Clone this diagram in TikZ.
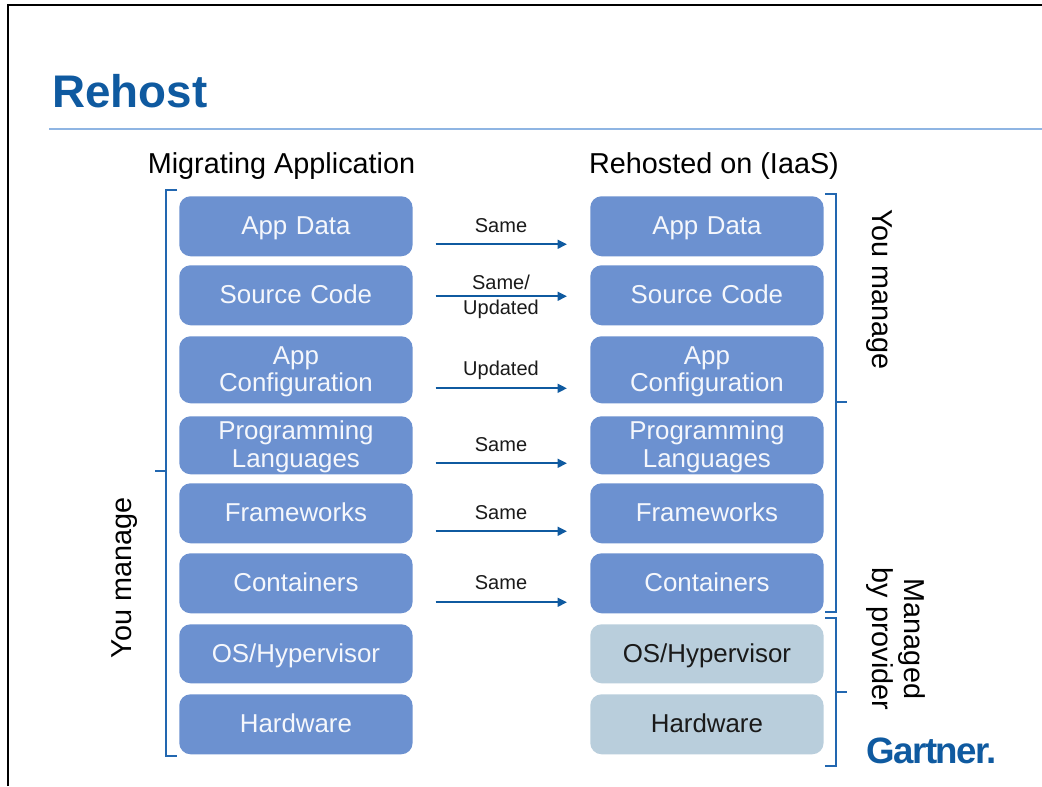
\documentclass[tikz,border=0pt]{standalone}
\usepackage{fontspec}
\setmainfont{Liberation Sans}
\usetikzlibrary{arrows.meta}
\definecolor{boxblue}{HTML}{6C91D0}
\definecolor{boxpale}{HTML}{B9CEDC}
\definecolor{brandblue}{HTML}{0F5AA0}
\definecolor{bracketblue}{HTML}{2267B0}
\definecolor{rulec}{HTML}{8FB5E3}
\definecolor{inktext}{HTML}{1A1A1A}
\newcommand{\boxstrut}{\rule[-4pt]{0pt}{20.4pt}}
\tikzset{
  x=0.75pt,y=-0.75pt,
  layer/.style={draw=none,rounded corners=8.5pt,inner sep=0pt,align=center,anchor=north west,
    text width=175pt,font=\fontsize{19.4}{20.5}\selectfont},
  own/.style={layer,fill=boxblue,text=white!93!boxblue},
  prov/.style={layer,fill=boxpale,text=inktext},
  flow/.style={draw=brandblue,line width=1.7pt,-{Triangle[length=7pt,width=6.5pt]},shorten <=17pt,shorten >=17.25pt},
  flowlabel/.style={font=\fontsize{15}{18.6}\selectfont,text=inktext,align=center,inner sep=0pt},
  heading/.style={font=\fontsize{21.6}{24}\selectfont,text=black,inner sep=0pt,align=center},
  brace/.style={draw=bracketblue,line width=1.4pt},
}
\begin{document}
\begin{tikzpicture}
\useasboundingbox (0,0) rectangle (1042,786);
\fill[white] (0,0) rectangle (1042,786);
\draw[black,line width=1.6pt] (8,786) -- (8,5) -- (1042,5);
\node[anchor=base west,inner sep=0pt,font=\fontsize{34.3}{36}\selectfont\bfseries,text=brandblue] (title) at (52,107) {Rehost};
\draw[rulec,line width=1.4pt] (49,129) -- (1042,129);
\node[heading] (hl) at (281.5,166) {Migrating Application};
\node[heading] (hr) at (714,166) {Rehosted on (IaaS)};
% left column
\node[own,minimum height=45pt] (la) at (179,196) {App Data\boxstrut};
\node[own,minimum height=45pt] (lb) at (179,265) {Source Code\boxstrut};
\node[own,minimum height=50.25pt] (lc) at (179,336) {\boxstrut App\\Configuration\boxstrut};
\node[own,minimum height=43.5pt] (ld) at (179,416) {\boxstrut Programming\\Languages\boxstrut};
\node[own,minimum height=45pt] (le) at (179,483) {Frameworks\boxstrut};
\node[own,minimum height=45pt] (lf) at (179,553) {Containers\boxstrut};
\node[own,minimum height=44.25pt] (lg) at (179,624) {OS/Hypervisor\boxstrut};
\node[own,minimum height=45pt] (lh) at (179,694) {Hardware\boxstrut};
% right column
\node[own,minimum height=45pt] (ra) at (590,196) {App Data\boxstrut};
\node[own,minimum height=45pt] (rb) at (590,265) {Source Code\boxstrut};
\node[own,minimum height=50.25pt] (rc) at (590,336) {\boxstrut App\\Configuration\boxstrut};
\node[own,minimum height=43.5pt] (rd) at (590,416) {\boxstrut Programming\\Languages\boxstrut};
\node[own,minimum height=45pt] (re) at (590,483) {Frameworks\boxstrut};
\node[own,minimum height=45pt] (rf) at (590,553) {Containers\boxstrut};
\node[prov,minimum height=44.25pt] (rg) at (590,624) {OS/Hypervisor\boxstrut};
\node[prov,minimum height=45pt] (rh) at (590,694) {Hardware\boxstrut};
% arrows
\draw[flow] ([yshift=-13.5pt]la.east) -- ([yshift=-13.5pt]ra.west);
\draw[flow] ([yshift=-0.75pt]lb.east) -- ([yshift=-0.75pt]rb.west);
\draw[flow] ([yshift=-13.9pt]lc.east) -- ([yshift=-13.9pt]rc.west);
\draw[flow] ([yshift=-13.5pt]ld.east) -- ([yshift=-13.5pt]rd.west);
\draw[flow] ([yshift=-13.5pt]le.east) -- ([yshift=-13.5pt]re.west);
\draw[flow] ([yshift=-14.25pt]lf.east) -- ([yshift=-14.25pt]rf.west);
\node[flowlabel] (ta) at (501,226) {Same};
\node[flowlabel] (tb) at (501,297) {Same/\\Updated};
\node[flowlabel] (tc) at (501,370) {Updated};
\node[flowlabel] (td) at (501,445) {Same};
\node[flowlabel] (te) at (501,513) {Same};
\node[flowlabel] (tf) at (501,583) {Same};
% brackets
\draw[brace] (177,190) -- (166,190) -- (166,756) -- (177,756);
\draw[brace] (166,471) -- (155,471);
\draw[brace] (825,194) -- (836,194) -- (836,612) -- (825,612);
\draw[brace] (836,402) -- (847,402);
\draw[brace] (825,618) -- (836,618) -- (836,766) -- (825,766);
\draw[brace] (836,692) -- (847,692);
% side labels
\node[heading,rotate=90] (yl) at (125,578) {You manage};
\node[heading,rotate=-90] (yr) at (879,289.5) {You manage};
\node[heading,rotate=-90] (mp) at (896,639) {Managed\\by provider};
\node[anchor=base west,inner sep=0pt,font=\fontsize{27.5}{30}\selectfont\bfseries\addfontfeature{LetterSpace=-4},text=brandblue] (logo) at (866,763) {Gartner.};
\end{tikzpicture}
\end{document}
